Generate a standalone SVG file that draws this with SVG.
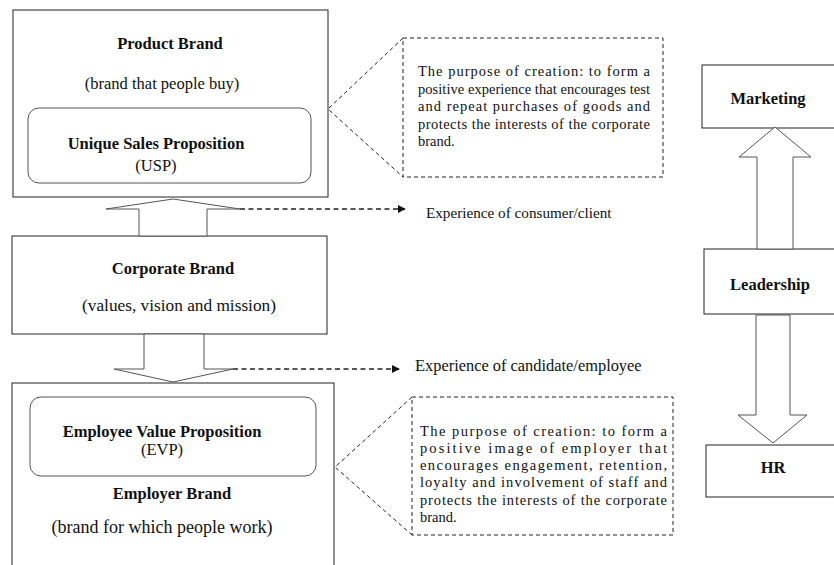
<svg xmlns="http://www.w3.org/2000/svg" width="834" height="565" viewBox="0 0 834 565" font-family="'Liberation Serif', 'DejaVu Serif', serif">
<style>
text{font-family:'Liberation Serif','DejaVu Serif',serif;fill:#111}
.b{font-weight:bold;font-size:16.5px}
.r{font-size:16.5px}
.c{font-size:14.5px}
.box{fill:#fff;stroke:#222;stroke-width:1}
.rr{fill:#fff;stroke:#555;stroke-width:1}
.arr{fill:#fff;stroke:#555;stroke-width:1}
.dash{fill:none;stroke:#222;stroke-width:1.3;stroke-dasharray:5,3.5}
.cd{fill:none;stroke:#222;stroke-width:1;stroke-dasharray:4,3}
</style>
<defs>
<marker id="ah" viewBox="0 0 10 10" refX="9" refY="5" markerWidth="8" markerHeight="8" markerUnits="userSpaceOnUse" orient="auto">
<path d="M0,0 L10,5 L0,10 Z" fill="#111"/>
</marker>
</defs>
<rect width="834" height="565" fill="#fff"/>

<g id="product-brand">
<rect class="box" x="13" y="10" width="315" height="187"/>
<text class="b" x="170" y="49" text-anchor="middle">Product Brand</text>
<text class="r" x="162" y="89" text-anchor="middle">(brand that people buy)</text>
</g>
<g id="usp">
<rect class="rr" x="28" y="108" width="283" height="75" rx="11"/>
<text class="b" x="156" y="149" text-anchor="middle">Unique Sales Proposition</text>
<text class="r" x="156" y="171" text-anchor="middle">(USP)</text>
</g>

<g id="callout-product">
<path class="cd" d="M403,38 L328,109 L403,177"/>
<rect class="cd" x="403" y="38" width="260" height="139"/>
<text class="c" x="418" y="76" textLength="232" lengthAdjust="spacing">The purpose of creation: to form a</text>
<text class="c" x="418" y="93.5" textLength="232" lengthAdjust="spacing">positive experience that encourages test</text>
<text class="c" x="418" y="111" textLength="232" lengthAdjust="spacing">and repeat purchases of goods and</text>
<text class="c" x="418" y="128.5" textLength="232" lengthAdjust="spacing">protects the interests of the corporate</text>
<text class="c" x="418" y="146">brand.</text>
</g>

<g id="corporate-brand">
<rect class="box" x="12" y="236" width="315" height="98"/>
<text class="b" x="173" y="274" text-anchor="middle">Corporate Brand</text>
<text class="r" x="179" y="311" text-anchor="middle" style="font-size:17.3px">(values, vision and mission)</text>
</g>

<g id="employer-brand">
<rect class="box" x="12" y="383" width="322" height="200"/>
<rect class="rr" x="30" y="397" width="286" height="79" rx="11"/>
<text class="b" x="162" y="437" text-anchor="middle">Employee Value Proposition</text>
<text class="r" x="162" y="455" text-anchor="middle">(EVP)</text>
<text class="b" x="172" y="499" text-anchor="middle">Employer Brand</text>
<text class="r" x="162" y="533" text-anchor="middle" style="font-size:18px">(brand for which people work)</text>
</g>

<g id="callout-employer">
<path class="cd" d="M412,397 L335,467 L412,535"/>
<rect class="cd" x="412" y="397" width="261" height="138"/>
<text class="c" x="420" y="435.5" textLength="247" lengthAdjust="spacing">The purpose of creation: to form a</text>
<text class="c" x="420" y="452.8" textLength="247" lengthAdjust="spacing">positive image of employer that</text>
<text class="c" x="420" y="470.1" textLength="247" lengthAdjust="spacing">encourages engagement, retention,</text>
<text class="c" x="420" y="487.4" textLength="247" lengthAdjust="spacing">loyalty and involvement of staff and</text>
<text class="c" x="420" y="504.7" textLength="247" lengthAdjust="spacing">protects the interests of the corporate</text>
<text class="c" x="420" y="522">brand.</text>
</g>

<g id="label-consumer">
<text class="r" x="426" y="218" style="font-size:15.2px">Experience of consumer/client</text>
</g>
<g id="label-candidate">
<text class="r" x="415" y="371" style="font-size:16.4px">Experience of candidate/employee</text>
</g>

<g id="marketing">
<rect class="box" x="702" y="65" width="150" height="63"/>
<text class="b" x="768" y="104" text-anchor="middle">Marketing</text>
</g>
<g id="leadership">
<rect class="box" x="704" y="249" width="150" height="65"/>
<text class="b" x="770" y="290" text-anchor="middle">Leadership</text>
</g>
<g id="hr">
<rect class="box" x="706" y="445" width="150" height="52"/>
<text class="b" x="773" y="473" text-anchor="middle">HR</text>
</g>

<g id="connectors">
<polygon class="arr" points="173,199 240,209 207,209 207,236 139,236 139,209 106,209"/>
<polygon class="arr" points="144,334 204,334 204,369 233,369 173,382 114,369 144,369"/>
<line class="dash" x1="240" y1="209" x2="405" y2="209" marker-end="url(#ah)"/>
<line class="dash" x1="233" y1="369" x2="399" y2="369" marker-end="url(#ah)"/>
<polygon class="arr" points="775,127 811,157 793,157 793,249 757,249 757,157 739,157"/>
<polygon class="arr" points="756,315 790,315 790,415 807,415 773,443 738,415 756,415"/>
</g>
</svg>
